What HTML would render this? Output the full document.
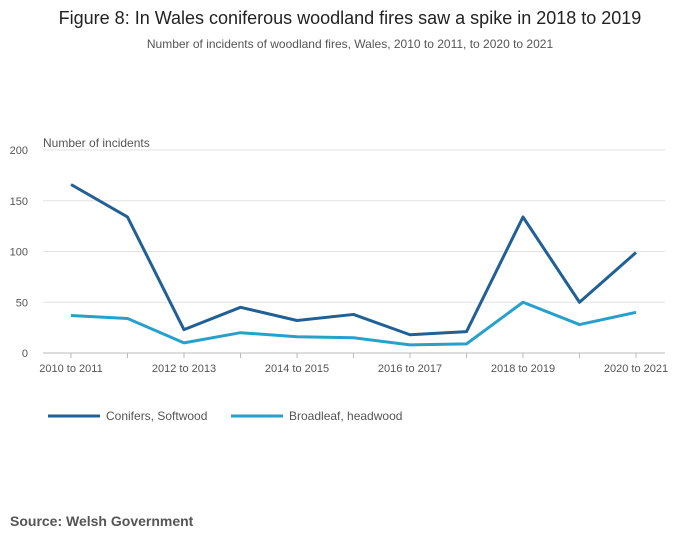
<!DOCTYPE html>
<html><head><meta charset="utf-8"><style>
body{margin:0;background:#fff;font-family:"Liberation Sans",sans-serif;}
svg text{font-family:"Liberation Sans",sans-serif;}
</style></head><body>
<svg width="700" height="549" viewBox="0 0 700 549">
<text x="350" y="24" text-anchor="middle" font-size="18" fill="#222">Figure 8: In Wales coniferous woodland fires saw a spike in 2018 to 2019</text>
<text x="350" y="48" text-anchor="middle" font-size="12" fill="#555">Number of incidents of woodland fires, Wales, 2010 to 2011, to 2020 to 2021</text>
<text x="43" y="147" font-size="12" fill="#555">Number of incidents</text>
<g id="grid"></g><g id="xaxis"></g><g id="series"></g>
<g>
<line x1="48" y1="416" x2="100" y2="416" stroke="#206095" stroke-width="3"/>
<text x="106" y="420" font-size="12" fill="#555">Conifers, Softwood</text>
<line x1="231" y1="416" x2="283" y2="416" stroke="#27a0cc" stroke-width="3"/>
<text x="289" y="420" font-size="12" fill="#555">Broadleaf, headwood</text>
</g>
<text x="10" y="526" font-size="14" font-weight="bold" fill="#555">Source: Welsh Government</text>
</svg>
<script>
const categories=["2010 to 2011","2011 to 2012","2012 to 2013","2013 to 2014","2014 to 2015","2015 to 2016","2016 to 2017","2017 to 2018","2018 to 2019","2019 to 2020","2020 to 2021"];
const conifers=[166,134,23,45,32,38,18,21,134,50,99];
const broadleaf=[37,34,10,20,16,15,8,9,50,28,40];
const yTicks=[0,50,100,150,200];
const xLabelIdx=[0,2,4,6,8,10];
const NS="http://www.w3.org/2000/svg";
const x=i=>71+i*56.5;
const y=v=>353-v*1.015;
function mk(t,a,p){const e=document.createElementNS(NS,t);for(const k in a)e.setAttribute(k,a[k]);p.appendChild(e);return e;}
const grid=document.getElementById('grid');
yTicks.forEach(t=>{
 const l=mk('line',{x1:43,x2:665,y1:y(t),y2:y(t),stroke:t===0?'#bbb':'#e2e2e2','stroke-width':1},grid);
 
 
 const tx=mk('text',{x:28,y:y(t)+4,'text-anchor':'end','font-size':11,fill:'#555'},grid);
 tx.textContent=t;
 
 
});
const xa=document.getElementById('xaxis');
categories.forEach((c,i)=>{
 const tk=mk('line',{x1:x(i),x2:x(i),y1:353,y2:358,stroke:'#bbb'},xa);
 
 
});
xLabelIdx.forEach(i=>{
 const tx=mk('text',{x:x(i),y:372,'text-anchor':'middle','font-size':11,fill:'#555'},xa);
 tx.textContent=categories[i];
 
 
});
const sg=document.getElementById('series');
[[conifers,'#206095','line-conifers'],[broadleaf,'#27a0cc','line-broadleaf']].forEach(([d,c,n])=>{
 const p=mk('path',{d:d.map((v,i)=>(i?'L':'M')+x(i)+','+y(v)).join(''),fill:'none',stroke:c,'stroke-width':3,'stroke-linejoin':'round'},sg);
 
 
});
</script>
</body></html>
